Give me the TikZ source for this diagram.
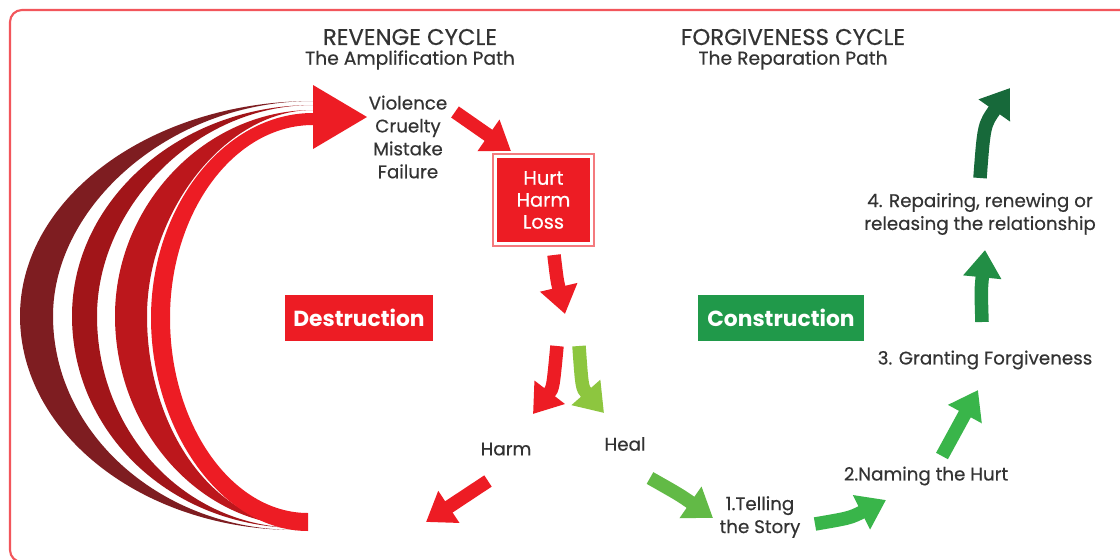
\documentclass[tikz,border=0pt]{standalone}
\usepackage{fontspec}
\setmainfont{Poppins}
\newfontfamily\medfont{Poppins}[FakeBold=0.45]
\usetikzlibrary{arrows.meta}
\definecolor{rRed}{HTML}{ED1C24}
\definecolor{rDarkA}{HTML}{7E1D21}
\definecolor{rDarkB}{HTML}{A11519}
\definecolor{rDarkC}{HTML}{BC171C}
\definecolor{gBox}{HTML}{20994A}
\definecolor{gLight}{HTML}{8DC63F}
\definecolor{gMid}{HTML}{62BA46}
\definecolor{gMain}{HTML}{39B54A}
\definecolor{gDeep}{HTML}{228E45}
\definecolor{gDark}{HTML}{17693A}
\definecolor{txt}{HTML}{333333}
\definecolor{frameRed}{HTML}{F2565B}
\definecolor{pinkLine}{HTML}{F47A7E}
\begin{document}
\begin{tikzpicture}[x=0.025cm,y=-0.025cm,
  lbl/.style={text=txt, font=\medfont\fontsize{13}{16.3}\selectfont, align=center, inner sep=0pt},
  ttl/.style={text=txt, font=\medfont\fontsize{16.2}{18}\selectfont, align=center, inner sep=0pt},
  sub/.style={text=txt, font=\medfont\fontsize{13.3}{16}\selectfont, align=center, inner sep=0pt},
  tagbox/.style={font=\fontsize{15.5}{18}\selectfont\bfseries, text=white, inner sep=0pt, minimum height=32.5pt},
  blk/.style={line width=9.6pt, -{Triangle[length=19.5pt,width=26pt]}},
]
\useasboundingbox (0,0) rectangle (1120,560);
\clip (0,0) rectangle (1120,560);
\fill[white] (0,0) rectangle (1120,560);
\draw[frameRed, line width=1.5pt, rounded corners=8.5pt] (10,10) rectangle (1140,562);

% crescent bands
\fill[rDarkA] (313,101) .. controls (152,101) and (20,197) .. (20,316)
  .. controls (20,434) and (144,530) .. (296,530)
  .. controls (162,530) and (53,434) .. (53,316)
  .. controls (53,206) and (170,101) .. (313,101) -- cycle;
\fill[rDarkB] (313,105) .. controls (180,105) and (72,200) .. (72,316)
  .. controls (72,432) and (170,528) .. (300,528)
  .. controls (185,528) and (97,432) .. (97,316)
  .. controls (97,208) and (195,105) .. (313,105) -- cycle;
\fill[rDarkC] (313,110) .. controls (205,110) and (115,205) .. (115,316)
  .. controls (115,430) and (200,526) .. (304,526)
  .. controls (215,526) and (147,430) .. (147,316)
  .. controls (147,212) and (225,110) .. (313,110) -- cycle;
\fill[rRed] (313,113) .. controls (224,113) and (151,207) .. (151,318)
  .. controls (151,430) and (222,531) .. (308,531)
  -- (308,513)
  .. controls (232,513) and (170,425) .. (170,318)
  .. controls (170,212) and (234,125) .. (313,125) -- cycle;
\fill[rRed] (313,85) -- (367,117) -- (313,149) -- cycle;

% titles
\node[ttl] (t1) at (410,37) {REVENGE CYCLE};
\node[sub] (s1) at (410,60) {The Amplification Path};
\node[ttl] (t2) at (793,37) {FORGIVENESS CYCLE};
\node[sub] (s2) at (793,60) {The Reparation Path};

% left text
\node[lbl] (vio) at (408,137) {Violence\\Cruelty\\Mistake\\Failure};

% hurt box
\node[fill=rRed, draw=white, line width=1.2pt, minimum width=67pt, minimum height=61.5pt, inner sep=0pt,
      text=white, font=\medfont\fontsize{13.8}{15.6}\selectfont, align=center] (hurt) at (543.5,200) {Hurt\\Harm\\Loss};
\draw[pinkLine, line width=1.2pt] ([shift={(-1.6pt,-1.6pt)}]hurt.south west) rectangle ([shift={(1.6pt,1.6pt)}]hurt.north east);

% tag boxes
\node[tagbox, fill=rRed, minimum width=105pt] (destr) at (359,318) {Destruction};
\node[tagbox, fill=gBox, minimum width=117.6pt] (constr) at (781,318) {Construction};

% other labels
\node[lbl] (harm) at (506,449) {Harm};
\node[lbl] (heal) at (625,444) {Heal};
\node[lbl] (tell) at (760,517) {1.Telling\\the Story};
\node[lbl] (name) at (926,476) {2.Naming the Hurt};
\node[lbl] (grant) at (985,360) {3. Granting Forgiveness};
\node[lbl] (repair) at (980,214) {4. Repairing, renewing or\\releasing the relationship};

% arrow coordinates
\coordinate (a1s) at (455,112); \coordinate (a1e) at (511,151);
\coordinate (a2s) at (554,255); \coordinate (a2e) at (565,314);
\coordinate (a3s) at (557,346); \coordinate (a3e) at (533,414);
\coordinate (a4s) at (579,346); \coordinate (a4e) at (604,413);
\coordinate (a5s) at (488,481); \coordinate (a5e) at (426,522);
\coordinate (a6s) at (650,478); \coordinate (a6e) at (713,518);
\coordinate (a7s) at (815,524); \coordinate (a7e) at (886,500);
\coordinate (a8s) at (942,456); \coordinate (a8e) at (978,390);
\coordinate (a9s) at (982,322); \coordinate (a9e) at (985,250);
\coordinate (a10s) at (980,178); \coordinate (a10e) at (1010,88);

\draw[blk, rRed] (a1s) -- (a1e);
\draw[blk, rRed] (a2s) .. controls (557,280) .. (a2e);
\draw[blk, rRed] (a3s) .. controls (553,388) .. (a3e);
\draw[blk, gLight] (a4s) .. controls (582,388) .. (a4e);
\draw[blk, rRed] (a5s) -- (a5e);
\draw[blk, gMid] (a6s) .. controls (680,495) .. (a6e);
\draw[blk, gMain] (a7s) .. controls (850,518) .. (a7e);
\draw[blk, gMain] (a8s) -- (a8e);
\draw[blk, gDeep] (a9s) .. controls (981,290) .. (a9e);
\draw[blk, gDark] (a10s) .. controls (984,125) .. (a10e);
\end{tikzpicture}
\end{document}
